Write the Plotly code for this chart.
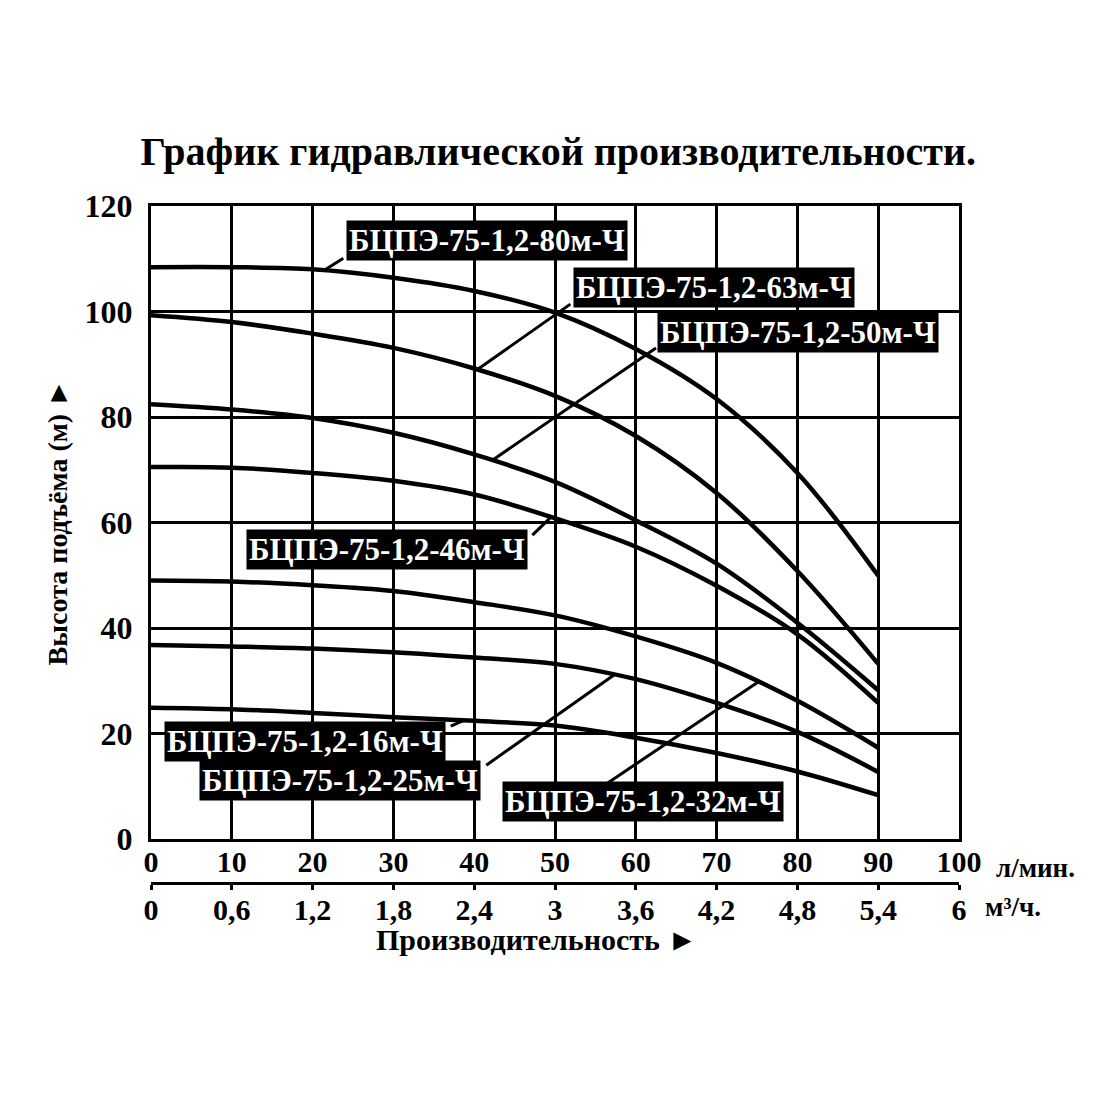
import numpy as np
import plotly.graph_objects as go

# flow, l/min
flow = [0, 10, 20, 30, 40, 50, 60, 70, 80, 90]

# head, m
head_80 = [108.4, 108.4, 108.0, 106.4, 103.9, 99.8, 92.9, 83.4, 69.4, 49.9]
head_63 = [99.3, 98.0, 95.8, 93.1, 89.2, 84.0, 76.4, 65.6, 50.8, 33.2]
head_50 = [82.4, 81.4, 79.8, 77.0, 72.9, 67.7, 60.4, 52.2, 41.0, 28.2]
head_46 = [70.5, 70.4, 69.4, 67.9, 65.3, 60.8, 55.4, 48.0, 38.8, 25.8]
head_32 = [49.0, 48.8, 48.1, 47.0, 44.9, 42.4, 38.4, 33.4, 26.2, 17.3]
head_25 = [36.8, 36.5, 36.1, 35.4, 34.4, 33.2, 30.3, 25.8, 20.3, 12.7]
head_16 = [24.9, 24.6, 23.9, 23.1, 22.4, 21.5, 19.2, 16.3, 12.8, 8.3]

names = ["БЦПЭ-75-1,2-80м-Ч", "БЦПЭ-75-1,2-63м-Ч", "БЦПЭ-75-1,2-50м-Ч",
         "БЦПЭ-75-1,2-46м-Ч", "БЦПЭ-75-1,2-32м-Ч", "БЦПЭ-75-1,2-25м-Ч",
         "БЦПЭ-75-1,2-16м-Ч"]
heads = [head_80, head_63, head_50, head_46, head_32, head_25, head_16]

x_ticks = [0, 10, 20, 30, 40, 50, 60, 70, 80, 90, 100]
m3_ticks = [0, 0.6, 1.2, 1.8, 2.4, 3, 3.6, 4.2, 4.8, 5.4, 6]
m3_text = ["0", "0,6", "1,2", "1,8", "2,4", "3", "3,6", "4,2", "4,8", "5,4", "6"]
y_ticks = [0, 20, 40, 60, 80, 100, 120]

# label box centre, leader start, leader end (x on the curve)
label_pos = {
    "БЦПЭ-75-1,2-80м-Ч": ((41.6, 113.4), (23.8, 110.1), 21.4),
    "БЦПЭ-75-1,2-63м-Ч": ((69.7, 104.5), (51.9, 101.4), 40.4),
    "БЦПЭ-75-1,2-50м-Ч": ((80.1, 96.1), (62.5, 93.1), 42.2),
    "БЦПЭ-75-1,2-46м-Ч": ((29.2, 54.8), (47.2, 57.6), 49.5),
    "БЦПЭ-75-1,2-32м-Ч": ((60.9, 7.2), (56.3, 10.4), 75.1),
    "БЦПЭ-75-1,2-25м-Ч": ((23.4, 11.0), (41.5, 14.0), 57.3),
    "БЦПЭ-75-1,2-16м-Ч": ((19.1, 18.4), (37.1, 21.4), 38.7),
}

serif = "Liberation Serif"

fig = go.Figure()

for name, h in zip(names, heads):
    fig.add_trace(go.Scatter(
        x=flow, y=h, mode="lines", name=name,
        line=dict(color="black", width=4.5, shape="spline", smoothing=1.0),
        showlegend=False, hoverinfo="skip"))

# helper trace so the m3/h axis is drawn
fig.add_trace(go.Scatter(
    x=[f * 0.06 for f in flow], y=head_80, xaxis="x2", mode="lines",
    line=dict(color="rgba(0,0,0,0)", width=0), showlegend=False,
    hoverinfo="skip"))

shapes = []
annotations = []
for name, h in zip(names, heads):
    (cx, cy), (sx, sy), ex = label_pos[name]
    ey = float(np.interp(ex, flow, h))
    shapes.append(dict(type="line", xref="x", yref="y", x0=sx, y0=sy,
                       x1=ex, y1=ey, line=dict(color="black", width=3)))
    annotations.append(dict(
        x=cx, y=cy, xref="x", yref="y", text="<b>" + name + "</b>",
        showarrow=False, bgcolor="black", borderpad=2,
        font=dict(family=serif, size=31, color="white")))

annotations += [
    dict(text="<b>л/мин.</b>", xref="paper", yref="paper", x=1.043, y=0.022,
         xanchor="left", yanchor="middle", showarrow=False,
         font=dict(family=serif, size=27, color="black")),
    dict(text="<b>м³/ч.</b>", xref="paper", yref="paper", x=1.03, y=-0.036,
         xanchor="left", yanchor="middle", showarrow=False,
         font=dict(family=serif, size=27, color="black")),
    dict(text="<b>Производительность ►</b>", xref="paper", yref="paper",
         x=0.477, y=-0.083, xanchor="center", yanchor="middle",
         showarrow=False, font=dict(family=serif, size=30, color="black")),
    dict(text="<b>Высота подъёма (м) ►</b>", xref="paper", yref="paper",
         x=-0.116, y=0.533, xanchor="center", yanchor="middle",
         textangle=-90, showarrow=False,
         font=dict(family=serif, size=28, color="black")),
]

fig.update_layout(
    width=1100, height=1100,
    margin=dict(l=143, r=149, t=198, b=225),
    paper_bgcolor="white", plot_bgcolor="white",
    title=dict(text="<b>График гидравлической производительности.</b>",
               x=0.504, xref="paper", y=0.870, yref="container",
               xanchor="center", yanchor="middle",
               font=dict(family=serif, size=40, color="black")),
    xaxis=dict(range=[0, 100], tickvals=x_ticks, showgrid=True,
               gridcolor="black", gridwidth=2.5, showline=True,
               linecolor="black", linewidth=3, mirror=True, zeroline=False,
               ticks="", ticklabelstandoff=-6,
               tickfont=dict(family=serif, size=30, color="black",
                             weight="bold")),
    xaxis2=dict(range=[0, 6], overlaying="x", anchor="free", position=0,
                side="bottom", tickvals=m3_ticks, ticktext=m3_text,
                showgrid=False, showline=True, linecolor="black",
                linewidth=3, ticks="outside", ticklen=5, tickwidth=2.5,
                tickcolor="black", zeroline=False, ticklabelstandoff=-6,
                tickfont=dict(family=serif, size=30, color="black",
                              weight="bold")),
    yaxis=dict(range=[0, 120], tickvals=y_ticks, domain=[0.065, 1],
               showgrid=True, gridcolor="black", gridwidth=2.5,
               showline=True, linecolor="black", linewidth=3, mirror=True,
               zeroline=False, ticks="", ticklabelstandoff=9,
               tickfont=dict(family=serif, size=32, color="black",
                             weight="bold")),
    shapes=shapes,
    annotations=annotations,
)

fig.write_html("out.html")
